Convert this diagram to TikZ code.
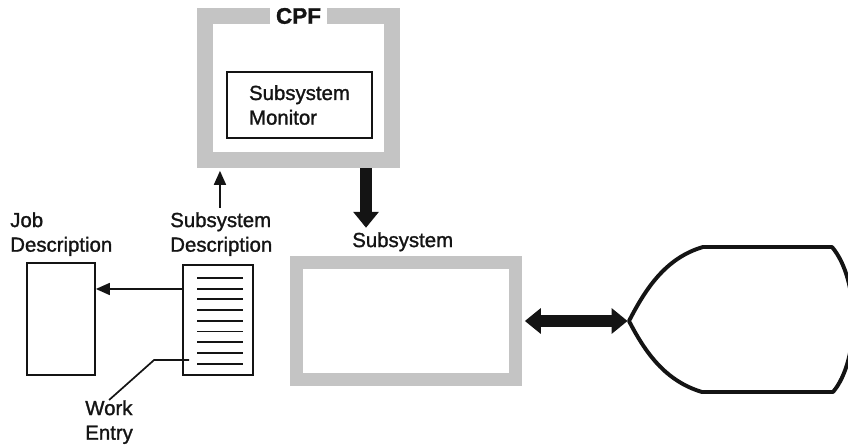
\documentclass[tikz,border=0pt]{standalone}
\usepackage{fontspec}
\setsansfont{Liberation Sans}[FakeBold=1.3]
\usetikzlibrary{arrows.meta, positioning}
\usepackage{xcolor}
\definecolor{framegray}{RGB}{196, 196, 196}
\definecolor{inkdark}{RGB}{20, 20, 20}

\begin{document}
\begin{tikzpicture}[
    x=0.025cm, y=-0.025cm,
    lbl/.style={font=\sffamily\fontsize{14.5}{17.5}\selectfont, align=left, inner sep=0pt, color=inkdark},
    frame/.style={rectangle, draw=framegray, line width=0.4cm},
    box/.style={rectangle, draw=inkdark, line width=1.2pt},
    arrow/.style={-{Triangle[length=3.5mm, width=3mm]}, line width=1.2pt, color=inkdark},
    fatarrow/.style={-{Triangle[length=4mm, width=6.2mm]}, line width=3.1mm, color=inkdark}
]
\useasboundingbox (0,0) rectangle (848,446);

% CPF frame
\node[frame, minimum width=4.675cm, minimum height=3.6cm] (cpf) at (298.5,88) {};
\node[lbl, font=\sffamily\bfseries\fontsize{16}{18}\selectfont, fill=white, inner xsep=4.5pt, inner ysep=2pt] (cpflabel) at (298.5,16) {CPF};
\node[box, lbl, minimum width=3.625cm, minimum height=1.65cm] (monitor) at (299.5,105) {Subsystem\\Monitor};

% Job and subsystem descriptions
\node[box, minimum width=1.7cm, minimum height=2.8cm] (job) at (61,319) {};
\node[lbl, anchor=north west] (joblabel) at (10,212) {Job\\Description};

\node[box, minimum width=1.75cm, minimum height=2.75cm] (doc) at (218,320) {};
\node[lbl, anchor=north west] (doclabel) at (170,212) {Subsystem\\Description};
\foreach \k in {0,...,8}
    \draw[line width=1.3pt, inkdark] (197,{278+10.7*\k}) -- (243,{278+10.7*\k});

\node[lbl, anchor=north west] (worklabel) at (85,400) {Work\\Entry};

% Arrows round the descriptions
\draw[arrow] ([yshift=0.775cm]doc.west) -- ([yshift=0.775cm]doc.west -| job.east);
\draw[arrow, shorten >=2pt] ([xshift=0.575cm, yshift=3pt]cpf.south west |- doclabel.north) -- ([xshift=0.575cm]cpf.south west);
\draw[line width=1.2pt, inkdark] (worklabel.north) -- ++(45,-40) -- ++(35,0);

% Subsystem
\node[lbl, anchor=north west] (sublabel) at (352,232) {Subsystem};
\node[frame, line width=0.325cm, minimum width=5.475cm, minimum height=2.925cm] (subsys) at (406,321) {};
\draw[fatarrow, shorten >=3pt] ([xshift=-0.85cm]cpf.south east) -- ([xshift=-0.85cm]cpf.south east |- sublabel.north);

% Display
\coordinate (disptip) at (629,321);
\draw[line width=2.8pt, inkdark, line join=round] (703,247) -- (832,247)
    .. controls (860,280) and (860,360) .. (833,392) -- (702,392)
    .. controls (665,381) and (645,352) .. (disptip)
    .. controls (645,290) and (665,258) .. cycle;
\draw[fatarrow, {Triangle[length=4mm, width=6.2mm]}-{Triangle[length=4mm, width=6.2mm]}, shorten <=2pt, shorten >=1pt] (subsys.east) -- (disptip);

\end{tikzpicture}
\end{document}
